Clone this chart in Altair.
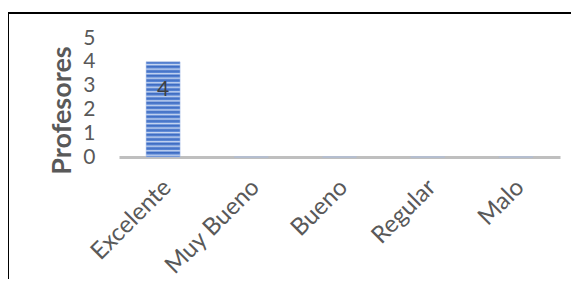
import altair as alt
import pandas as pd

categories = ["Excelente", "Muy Bueno", "Bueno", "Regular", "Malo"]
values = [4, 0, 0, 0, 0]
y_title = "Profesores"

df = pd.DataFrame({"cat": categories, "val": values})

# striped fill (horizontal stripes) via a many-stop linear gradient
n_stripes = 21
stops = []
for i in range(n_stripes):
    stops.append({"offset": i / n_stripes, "color": "#3E6CC2"})
    stops.append({"offset": (i + 0.35) / n_stripes, "color": "#5683D3"})
    stops.append({"offset": (i + 0.6) / n_stripes, "color": "#C7D6F0"})
    stops.append({"offset": (i + 0.85) / n_stripes, "color": "#6F95DA"})
stops.append({"offset": 1, "color": "#3E6CC2"})
stripe = {"gradient": "linear", "x1": 0, "y1": 0, "x2": 0, "y2": 1, "stops": stops}

FONT = "Lato"
GREY = "#595959"

x_enc = alt.X(
    "cat:N",
    sort=categories,
    scale=alt.Scale(paddingInner=0, paddingOuter=0),
    axis=alt.Axis(
        title=None,
        labelAngle=-45,
        labelAlign="right",
        labelBaseline="top",
        labelPadding=18,
        labelOffset=-4,
        labelFont=FONT,
        labelFontSize=24,
        labelColor=GREY,
        labelOverlap=False,
        ticks=False,
        domainColor="#BFBFBF",
        domainWidth=3,
        grid=False,
    ),
)
y_enc = alt.Y(
    "val:Q",
    scale=alt.Scale(domain=[0, 5], nice=False),
    axis=alt.Axis(
        title=y_title,
        values=[0, 1, 2, 3, 4, 5],
        labelOverlap=False,
        labelPadding=24,
        labelFont=FONT,
        labelFontSize=21,
        labelColor=GREY,
        ticks=False,
        domain=False,
        grid=False,
        titleFont=FONT,
        titleFontSize=27,
        titleFontWeight="bold",
        titleColor=GREY,
        titleAngle=270,
        titleAlign="center",
        titleBaseline="middle",
        titleX=-57,
        titleY=72,
    ),
)

bars = alt.Chart(df).mark_bar(width=34, fill=stripe, stroke="#A9BEE6", strokeWidth=0.5).encode(
    x=x_enc, y=y_enc
)

labels = alt.Chart(df).transform_filter(alt.datum.val > 0).mark_text(
    font=FONT, fontSize=21, color="#404040", baseline="middle", dy=28
).encode(x=x_enc, y=y_enc, text="val:Q")

frame = alt.Chart(pd.DataFrame({"a": [0]})).mark_rect(
    fill=None, stroke="#000000", strokeWidth=2, clip=False
).encode(
    x=alt.value(-111), x2=alt.value(480), y=alt.value(-25), y2=alt.value(270)
)

chart = alt.layer(frame, bars, labels).properties(
    width=441,
    height=119,
    autosize=alt.AutoSizeParams(type="none"),
    padding={"left": 111, "top": 30, "right": 11, "bottom": 122},
).configure_view(stroke=None)

chart.save("out.html", embed_options={"renderer": "svg", "actions": False})
